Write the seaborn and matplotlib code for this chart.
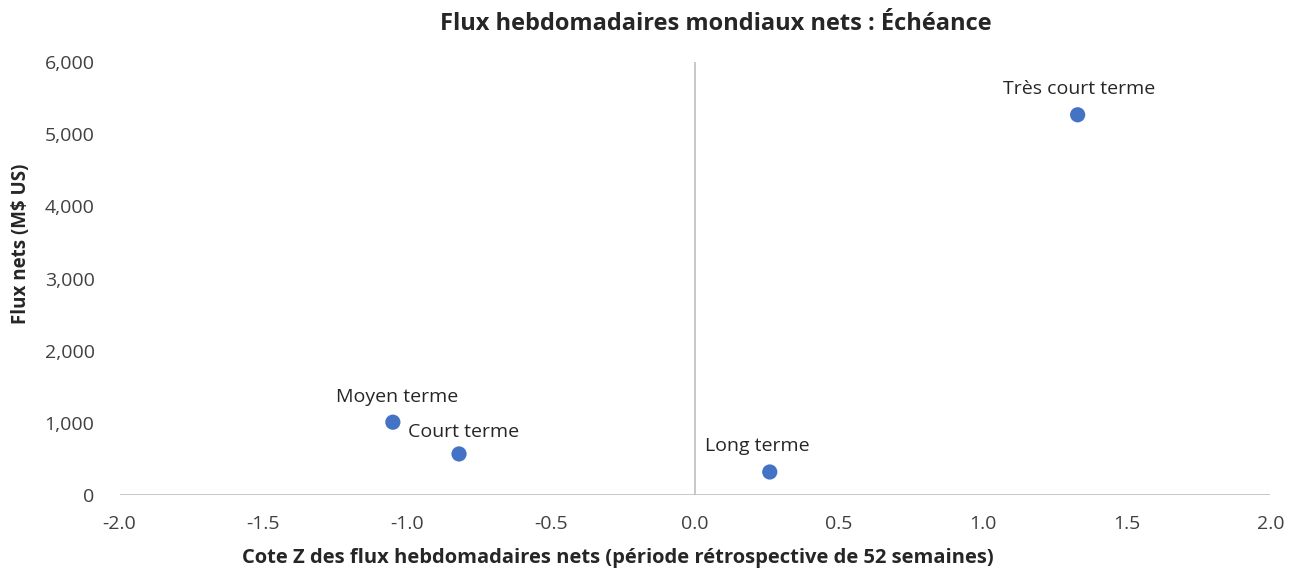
import matplotlib
matplotlib.use("Agg")
import matplotlib.pyplot as plt
import seaborn as sns
import pandas as pd
from matplotlib.ticker import FuncFormatter, MultipleLocator

categories = ["Très court terme", "Moyen terme", "Court terme", "Long terme"]
zscores = [1.33, -1.05, -0.82, 0.26]
flows = [5270, 1010, 570, 320]

df = pd.DataFrame({"cat": categories, "z": zscores, "flow": flows})

sns.set_theme(style="white")
plt.rcParams['font.family'] = ['Open Sans', 'DejaVu Sans']

fig = plt.figure(figsize=(12.99, 5.75), dpi=100)
ax = fig.add_axes([0.092, 0.139, 0.886, 0.753])

sns.scatterplot(data=df, x="z", y="flow", ax=ax, color="#4472C4", s=120,
                edgecolor="none", zorder=3, legend=False)

ax.set_xlim(-2.0, 2.0)
ax.set_ylim(0, 6000)
ax.xaxis.set_major_locator(MultipleLocator(0.5))
ax.yaxis.set_major_locator(MultipleLocator(1000))
ax.xaxis.set_major_formatter(FuncFormatter(lambda v, p: f"{v:.1f}"))
ax.yaxis.set_major_formatter(FuncFormatter(lambda v, p: f"{v:,.0f}"))

for s in ax.spines.values():
    s.set_visible(False)
ax.axhline(0, color="#bfbfbf", lw=1.2, zorder=1)
ax.axvline(0, color="#bfbfbf", lw=1.2, zorder=1)
ax.tick_params(axis="both", length=0, labelsize=14, colors="#404040")
ax.tick_params(axis="y", pad=18)
ax.tick_params(axis="x", pad=14)

offsets = {"Très court terme": (1, 12), "Moyen terme": (3, 12),
           "Court terme": (3, 9), "Long terme": (-9, 12)}
for _, r in df.iterrows():
    dx, dy = offsets[r["cat"]]
    ax.annotate(r["cat"], (r["z"], r["flow"]), xytext=(dx, dy),
                textcoords="offset points", ha="center", va="bottom",
                fontsize=14, color="#262626")

ax.set_xlabel("Cote Z des flux hebdomadaires nets (période rétrospective de 52 semaines)",
              fontsize=14.5, fontweight="bold", color="#262626")
ax.xaxis.set_label_coords(0.433, -0.123)
ax.set_ylabel("Flux nets (M$ US)", fontsize=13.5, fontweight="bold", color="#262626")
ax.yaxis.set_label_coords(-0.077, 0.58)
fig.suptitle("Flux hebdomadaires mondiaux nets : Échéance", x=0.551, y=0.98,
             fontsize=17, fontweight="bold", color="#262626")

fig.savefig("out.png", dpi=100, facecolor="white")
